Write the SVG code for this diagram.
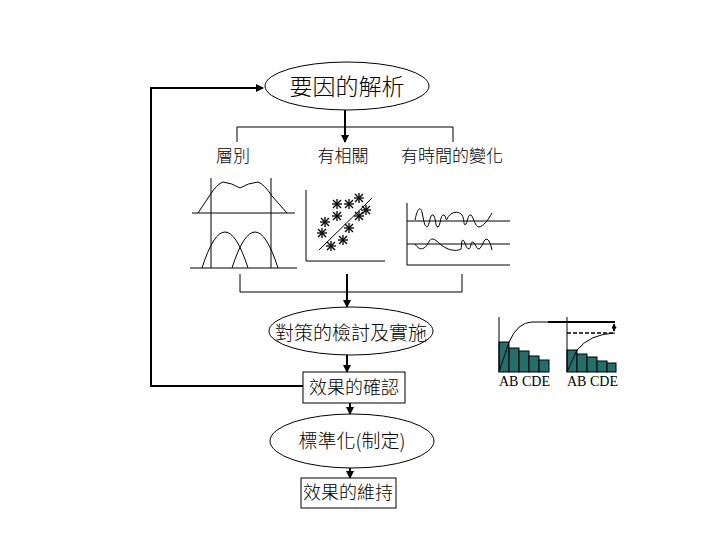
<svg xmlns="http://www.w3.org/2000/svg" width="720" height="540" viewBox="0 0 720 540">
<style>
.ln{fill:none;stroke:#000;stroke-width:1}
.th{fill:none;stroke:#000;stroke-width:2}
.sh{fill:#fff;stroke:#000;stroke-width:1}
.t{font-family:"Noto Sans CJK TC","Noto Sans CJK SC",sans-serif;font-weight:300;fill:#000;text-anchor:middle}
.abc{font-family:"Liberation Serif",serif;font-size:14px;fill:#000}
.bar{fill:#226f6b;stroke:#000;stroke-width:1}
.as{stroke:#000;stroke-width:1.3}
</style>
<defs>
<marker id="ah" viewBox="0 0 8 8" refX="7" refY="4" markerWidth="4" markerHeight="4" orient="auto" markerUnits="strokeWidth">
<path d="M0,0 L8,4 L0,8 Z" fill="#000"/>
</marker>
<marker id="sa" viewBox="0 0 6 6" refX="5" refY="3" markerWidth="5" markerHeight="5" orient="auto-start-reverse" markerUnits="userSpaceOnUse">
<path d="M0,0 L6,3 L0,6 Z" fill="#000"/>
</marker>
<g id="ast" class="as">
<line x1="-5" y1="0" x2="5" y2="0"/>
<line x1="0" y1="-5" x2="0" y2="5"/>
<line x1="-4" y1="-4" x2="4" y2="4"/>
<line x1="-4" y1="4" x2="4" y2="-4"/>
</g>
</defs>
<rect width="720" height="540" fill="#fff"/>

<g id="connectors">
<polyline class="th" points="303,386 151,386 151,88 263,88" marker-end="url(#ah)"/>
<line class="th" x1="345" y1="110" x2="345" y2="142" marker-end="url(#ah)"/>
<polyline class="ln" points="237,142 237,127 453,127 453,142"/>
<polyline class="ln" points="240,274 240,292 462,292 462,274"/>
<line class="th" x1="347" y1="274" x2="347" y2="307" marker-end="url(#ah)"/>
<line class="th" x1="347" y1="355" x2="347" y2="372" marker-end="url(#ah)"/>
<line class="th" x1="350" y1="403" x2="350" y2="414" marker-end="url(#ah)"/>
<line class="th" x1="350" y1="468" x2="350" y2="478" marker-end="url(#ah)"/>
</g>

<g id="n1">
<ellipse class="sh" cx="347" cy="86" rx="82" ry="24"/>
<text class="t" x="347" y="95" font-size="23">要因的解析</text>
</g>

<g id="labels">
<text class="t" x="233" y="162" font-size="17">層別</text>
<text class="t" x="343" y="162" font-size="17">有相關</text>
<text class="t" x="452" y="162" font-size="17">有時間的變化</text>
</g>

<g id="strat">
<line class="ln" x1="192" y1="213" x2="295" y2="213"/>
<line class="ln" x1="190" y1="268" x2="297" y2="268"/>
<line class="ln" x1="211" y1="178" x2="211" y2="268"/>
<line class="ln" x1="271" y1="178" x2="271" y2="268"/>
<path class="ln" d="M198,213 L210,195 Q217,184 223,182 Q232,183 240,188 Q248,183 258,182 Q264,184 272,196 L287,213"/>
<path class="ln" d="M202,268 Q225,196 248,268"/>
<path class="ln" d="M232,268 Q255,196 278,268"/>
</g>

<g id="corr">
<polyline class="ln" points="306,190 306,261 385,261"/>
<line class="ln" x1="319" y1="250" x2="372" y2="198"/>
<use href="#ast" x="337" y="204"/>
<use href="#ast" x="349" y="204"/>
<use href="#ast" x="359" y="198"/>
<use href="#ast" x="337" y="216"/>
<use href="#ast" x="325" y="222"/>
<use href="#ast" x="322" y="233"/>
<use href="#ast" x="366" y="210"/>
<use href="#ast" x="359" y="216"/>
<use href="#ast" x="349" y="228"/>
<use href="#ast" x="343" y="240"/>
<use href="#ast" x="331" y="246"/>
</g>

<g id="time">
<polyline class="ln" points="407,203 407,265 510,265"/>
<line class="ln" x1="407" y1="221" x2="510" y2="221"/>
<line class="ln" x1="407" y1="244" x2="510" y2="244"/>
<path class="ln" d="M415,220 C417,210 420,205 422,212 C424,222 425,229 428,226 C430,222 430,214 433,215 C436,216 435,228 438,227 C441,225 440,214 444,215 C446,216 446,222 447,219 C450,212 458,210 462,215 C465,220 463,227 466,224 C468,220 468,214 471,215 C474,218 475,227 479,227 C484,226 488,220 492,213"/>
<path class="ln" d="M415,244 C418,248 420,250 424,248 C428,246 429,238 433,239 C437,240 440,245 446,248 C452,251 458,251 461,249 C462,245 461,240 463,240 C465,241 466,249 469,249 C471,248 471,241 473,242 C476,244 476,249 479,249 C482,248 484,238 487,239 C490,241 491,246 492,250"/>
</g>

<g id="n2">
<ellipse class="sh" cx="351" cy="331" rx="82" ry="24"/>
<text class="t" x="351" y="340" font-size="19">對策的檢討及實施</text>
</g>

<g id="n3">
<rect class="sh" x="303" y="372" width="102" height="31"/>
<text class="t" x="354" y="394" font-size="18">效果的確認</text>
</g>

<g id="n4">
<ellipse class="sh" cx="352" cy="441" rx="82" ry="27"/>
<text class="t" x="352" y="448" font-size="19">標準化(制定)</text>
</g>

<g id="n5">
<rect class="sh" x="301" y="478" width="95" height="30"/>
<text class="t" x="348" y="499" font-size="18">效果的維持</text>
</g>

<g id="pareto">
<rect class="bar" x="499" y="342" width="10" height="30"/>
<rect class="bar" x="509" y="348" width="10" height="24"/>
<rect class="bar" x="519" y="351" width="10" height="21"/>
<rect class="bar" x="529" y="356" width="10" height="16"/>
<rect class="bar" x="539" y="360" width="10" height="12"/>
<line class="ln" x1="499" y1="317" x2="499" y2="372"/>
<path class="ln" d="M499,372 L509,342 Q518,322 532,322 L548,322"/>
<line class="th" x1="548" y1="322" x2="615" y2="322"/>
<rect class="bar" x="567" y="350" width="10" height="22"/>
<rect class="bar" x="577" y="354" width="10" height="18"/>
<rect class="bar" x="587" y="357" width="10" height="15"/>
<rect class="bar" x="597" y="361" width="10" height="11"/>
<rect class="bar" x="607" y="363" width="9" height="9"/>
<line class="ln" x1="567" y1="317" x2="567" y2="372"/>
<path class="ln" d="M567,372 L577,350 Q590,334 615,333"/>
<line x1="567" y1="333" x2="615" y2="333" stroke="#000" stroke-width="1.5" stroke-dasharray="4,2"/>
<line x1="614" y1="324" x2="614" y2="331" stroke="#000" stroke-width="1.5" stroke-dasharray="2,1" marker-start="url(#sa)" marker-end="url(#sa)"/>
<text class="abc" x="499" y="386">AB CDE</text>
<text class="abc" x="567" y="386">AB CDE</text>
</g>
</svg>
